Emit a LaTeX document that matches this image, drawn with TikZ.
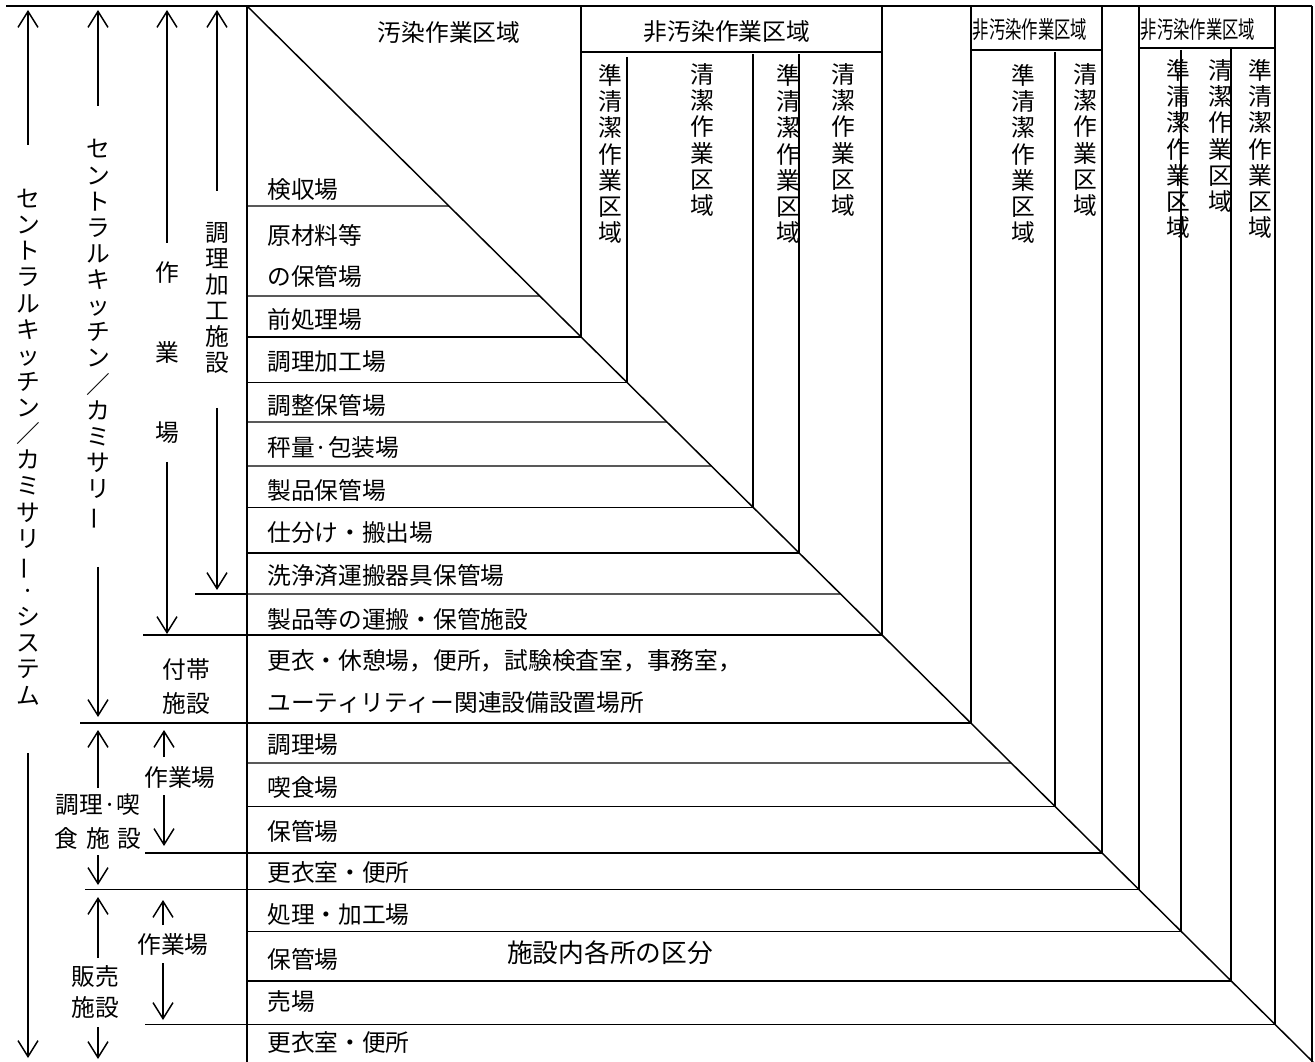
\documentclass[tikz,border=0pt]{standalone}
\usepackage{fontspec}
\setmainfont{Noto Sans CJK JP}
\usetikzlibrary{arrows.meta,calc}
\newcommand\vchoon{\rotatebox[origin=c]{90}{ー}}
\begin{document}
\begin{tikzpicture}[x=0.75pt,y=-0.75pt,
  ln/.style={line width=1.1pt},
  arr/.style={line width=1.1pt,-{Straight Barb[length=12pt,width=15pt]}},
  lbl/.style={anchor=west,inner sep=0pt,font=\fontsize{17.8}{20}\selectfont},
  ctr/.style={inner sep=0pt,font=\fontsize{17.8}{20}\selectfont},
  vt/.style={align=center,inner sep=0pt,font=\fontsize{17.8}{19.6}\selectfont},
  squeeze/.style={inner sep=0pt,font=\fontsize{17.8}{20}\selectfont},
]
\useasboundingbox (0,0) rectangle (1315,1062);
% frame
\coordinate (D0) at (247,6);
\coordinate (D1) at (1313,1062);
\draw[ln] (6,6) -- (1312,6);
\draw[ln] (D0) -- (247,1062);
\draw[ln] (D0) -- (D1);
% row lines ending on the diagonal
\foreach \yy in {206,296,422,466,594,763} {
  \draw[ln] (247,\yy) -- ($(D0)!{(\yy-6)/1056}!(D1)$);
}
\draw[ln] (195,594) -- (247,594);
% vertical lines with row lines meeting at the diagonal: x, top, left start
\foreach \xx/\tp/\ls in {581/6/247,627/57/247,753/54/247,799/54/247,882/6/143,971/6/80,1055/52/247,1102/6/145,1139/6/85,1181/50/247,1231/48/247,1275/6/145} {
  \pgfmathsetmacro\ye{6+(\xx-247)*0.990619}
  \draw[ln] (\xx,\tp) -- (\xx,\ye) -- (\ls,\ye);
}
\draw[ln] (1312,6) -- (1312,1062);
% header boxes
\draw[ln] (581,52) -- (882,52);
\draw[ln] (971,50) -- (1102,50);
\draw[ln] (1139,48) -- (1275,48);
% header texts
\node[ctr] (h1) at (449,32) {汚染作業区域};
\node[ctr] (h2) at (727,32) {非汚染作業区域};
\node[squeeze] (h3) at (1030,30) {\scalebox{0.69}[1]{非汚染作業区域}};
\node[squeeze] (h4) at (1198,30) {\scalebox{0.69}[1]{非汚染作業区域}};
% vertical zone texts
\node[vt] (z1) at (610,154) {準\\清\\潔\\作\\業\\区\\域};
\node[vt] (z2) at (702,140) {清\\潔\\作\\業\\区\\域};
\node[vt] (z3) at (788,154) {準\\清\\潔\\作\\業\\区\\域};
\node[vt] (z4) at (843,140) {清\\潔\\作\\業\\区\\域};
\node[vt] (z5) at (1023,154) {準\\清\\潔\\作\\業\\区\\域};
\node[vt] (z6) at (1085,140) {清\\潔\\作\\業\\区\\域};
\node[vt] (z7) at (1178,149) {準\\清\\潔\\作\\業\\区\\域};
\node[vt] (z8) at (1220,136) {清\\潔\\作\\業\\区\\域};
\node[vt] (z9) at (1260,149) {準\\清\\潔\\作\\業\\区\\域};
% row labels
\node[lbl] (r1) at (267,190) {検収場};
\node[lbl] (r2) at (267,235) {原材料等};
\node[lbl] (r3) at (267,276) {の保管場};
\node[lbl] (r4) at (267,319) {前処理場};
\node[lbl] (r5) at (267,362) {調理加工場};
\node[lbl] (r6) at (267,405) {調整保管場};
\node[lbl] (r7) at (267,447) {秤量·包装場};
\node[lbl] (r8) at (267,490) {製品保管場};
\node[lbl] (r9) at (267,533) {仕分け・搬出場};
\node[lbl] (r10) at (267,576) {洗浄済運搬器具保管場};
\node[lbl] (r11) at (267,619) {製品等の運搬・保管施設};
\node[lbl] (r12) at (267,661) {更衣・休憩場，便所，試験検査室，事務室，};
\node[lbl] (r13) at (267,703) {ユーティリティー関連設備設置場所};
\node[lbl] (r14) at (267,745) {調理場};
\node[lbl] (r15) at (267,788) {喫食場};
\node[lbl] (r16) at (267,831) {保管場};
\node[lbl] (r17) at (267,873) {更衣室・便所};
\node[lbl] (r18) at (267,915) {処理・加工場};
\node[lbl] (r19) at (267,959) {保管場};
\node[lbl] (r20) at (267,1002) {売場};
\node[lbl] (r21) at (267,1043) {更衣室・便所};
\node[inner sep=0pt,font=\fontsize{19.3}{22}\selectfont] (cap) at (610,953) {施設内各所の区分};
% left column 1
\node[vt] (c1) at (28,447) {セ\\ン\\ト\\ラ\\ル\\キ\\ッ\\チ\\ン\\／\\カ\\ミ\\サ\\リ\\\vchoon\\·\\シ\\ス\\テ\\ム};
\draw[arr] (28,145) -- (28,10);
\draw[arr] (28,753) -- (28,1058);
% left column 2
\node[vt] (c2) at (98,335) {セ\\ン\\ト\\ラ\\ル\\キ\\ッ\\チ\\ン\\／\\カ\\ミ\\サ\\リ\\\vchoon};
\draw[arr] (98,106) -- (98,10);
\draw[arr] (98,567) -- (98,717);
% left column 3
\node[ctr] (c3a) at (167,273) {作};
\node[ctr] (c3b) at (167,352) {業};
\node[ctr] (c3c) at (167,433) {場};
\draw[arr] (167,243) -- (167,10);
\draw[arr] (167,462) -- (167,634);
% left column 4
\node[vt] (c4) at (217,298) {調\\理\\加\\工\\施\\設};
\draw[arr] (217,191) -- (217,10);
\draw[arr] (217,408) -- (217,590);
% 付帯施設
\node[ctr] (f1) at (186,670) {付帯};
\node[ctr] (f2) at (186,703) {施設};
% 調理・喫食施設
\node[ctr] (k1) at (98,805) {調理·喫};
\node[ctr] (k2) at (98,838) {食\hspace{6pt}施\hspace{6pt}設};
\draw[arr] (98,788) -- (98,730);
\draw[arr] (98,855) -- (98,885);
\node[ctr] (k3) at (180,778) {作業場};
\draw[arr] (164,757) -- (164,730);
\draw[arr] (164,795) -- (164,846);
% 販売施設
\node[ctr] (s1) at (95,977) {販売};
\node[ctr] (s2) at (95,1007) {施設};
\draw[arr] (98,958) -- (98,897);
\draw[arr] (98,1027) -- (98,1059);
\node[ctr] (s3) at (173,945) {作業場};
\draw[arr] (163,925) -- (163,900);
\draw[arr] (163,963) -- (163,1020);
\end{tikzpicture}
\end{document}
